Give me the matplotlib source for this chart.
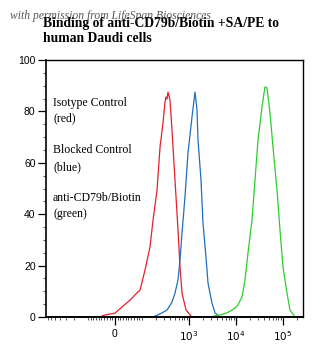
import numpy as np
import matplotlib
matplotlib.use("Agg")
import matplotlib.pyplot as plt
from matplotlib.ticker import FixedLocator, FixedFormatter

# ---- data ----
red_x = [-56, -37, 0, 26, 56, 74, 93, 116, 148, 172, 209, 242, 280, 309, 324, 341, 358, 394, 435, 504, 584, 644, 711, 865, 1159, 1718]
red_y = [0, 0.8, 1.5, 3.9, 6.6, 8.6, 10.5, 18.3, 27.2, 37.7, 49.4, 66.1, 75.5, 83.7, 85.6, 84.8, 87.5, 84.4, 72.8, 53.3, 33.9, 19.5, 9.3, 2.7, 0, 0]

blue_x = [134, 172, 267, 341, 435, 504, 584, 644, 711, 822, 953, 1159, 1343, 1482, 1556, 1803, 1986, 2301, 2541, 3090, 3581, 4571]
blue_y = [0, 0, 1.6, 2.7, 5.8, 9.3, 14.4, 22.2, 32.7, 46.7, 63.8, 77.8, 87.5, 80.5, 68.9, 53.3, 36.6, 23.3, 13.2, 5.4, 1.6, 0]

green_x = [1343, 2800, 4571, 6442, 8222, 9528, 11040, 13430, 15560, 18030, 21930, 25410, 29440, 35810, 41400, 45710, 52970, 61380, 74650, 86500, 100000, 121900, 140900, 180300, 230100]
green_y = [0, 0, 0.8, 1.6, 2.7, 3.5, 4.7, 7.8, 14.4, 24.9, 37.7, 53.3, 68.9, 81.7, 89.5, 89.1, 79.4, 66.1, 49.4, 33.9, 19.5, 9.3, 2.7, 0, 0]

x_major = [0, 1e3, 1e4, 1e5]
x_major_labels = ["0", "$10^3$", "$10^4$", "$10^5$"]
y_ticks = [0, 20, 40, 60, 80, 100]

title_lines = "Binding of anti-CD79b/Biotin +SA/PE to\nhuman Daudi cells"
legend_texts = [("Isotype Control", "(red)"), ("Blocked Control", "(blue)"), ("anti-CD79b/Biotin", "(green)")]
watermark = "with permission from LifeSpan Biosciences"

# ---- figure ----
fig = plt.figure(figsize=(3.27, 3.63), dpi=100)
ax = fig.add_axes([46/327, 1-317/363, (303-46)/327, (317-60)/363])

ax.set_xscale("symlog", linthresh=100, linscale=0.517)
ax.plot(red_x, red_y, color="#e3202c", lw=0.9)
ax.plot(blue_x, blue_y, color="#1f6fbf", lw=0.9)
ax.plot(green_x, green_y, color="#2ecc2e", lw=0.9)

ax.set_xlim(-783, 2.67e5)
ax.set_ylim(0, 100)

# x ticks
ax.xaxis.set_major_locator(FixedLocator(x_major))
ax.xaxis.set_major_formatter(FixedFormatter(x_major_labels))
minors = []
for s in (-1, 1):
    for k in range(1, 10):
        minors.append(s * k * 10)
        minors.append(s * k * 100)
for dec in (1e3, 1e4, 1e5):
    for k in range(1, 10):
        minors.append(k * dec)
minors = [m for m in minors if -783 <= m <= 2.67e5 and m not in x_major]
ax.xaxis.set_minor_locator(FixedLocator(minors))

ax.yaxis.set_major_locator(FixedLocator(y_ticks))
ax.yaxis.set_minor_locator(FixedLocator(list(range(0, 101, 5))))

ax.tick_params(axis="both", which="major", direction="out", length=6, width=0.9,
               labelsize=7.5, pad=1.5, color="black")
ax.tick_params(axis="both", which="minor", direction="out", length=2.5, width=0.6, color="#333333")
for lab in ax.get_xticklabels() + ax.get_yticklabels():
    lab.set_fontfamily("Liberation Sans")
ax.tick_params(axis="x", which="major", pad=2.5)

for sp in ax.spines.values():
    sp.set_linewidth(1.0)
ax.spines["bottom"].set_linewidth(1.4)
ax.spines["left"].set_linewidth(1.2)

# inside legend text
ys = [(103, 118), (150, 167), (198, 214)]
for (l1, l2), (y1, y2) in zip(legend_texts, ys):
    fig.text(53/327, 1 - y1/363, l1, fontsize=8.5, family="Liberation Serif", va="center", ha="left")
    fig.text(53/327, 1 - y2/363, l2, fontsize=8.5, family="Liberation Serif", va="center", ha="left")

# title
fig.text(43/327, 1 - 17/363, title_lines, fontsize=9.8, family="Liberation Serif",
         fontweight="bold", va="top", ha="left", linespacing=1.25)

# watermark
fig.text(10/327, 1 - 16/363, watermark, fontsize=8.4, family="Liberation Serif",
         style="italic", color="#3a3a3a", va="center", ha="left", alpha=0.85)

fig.savefig("out.png", dpi=100)
